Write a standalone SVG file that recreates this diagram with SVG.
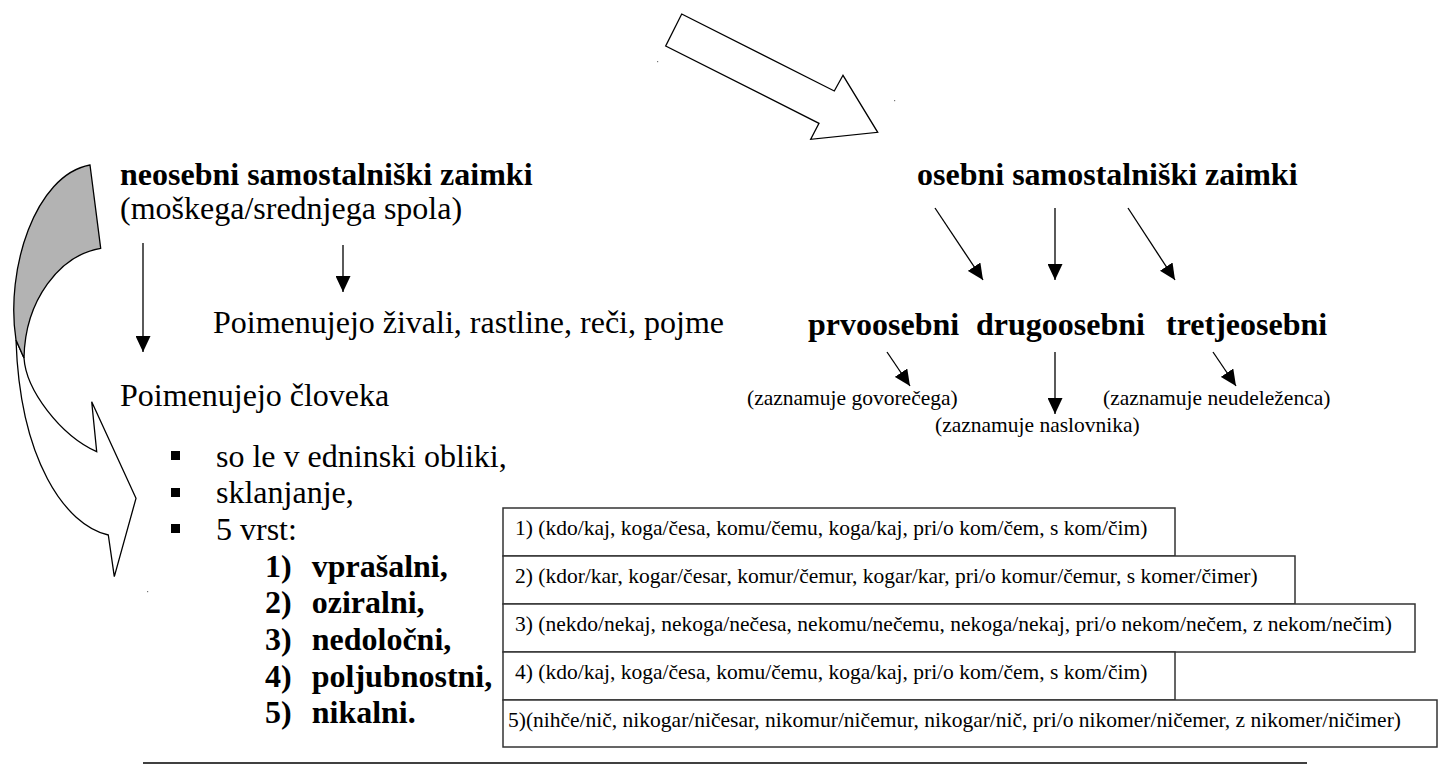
<svg xmlns="http://www.w3.org/2000/svg" width="1439" height="765" viewBox="0 0 1439 765">
<style>
  .t { font-family: "Liberation Serif", "Times New Roman", serif; fill: #000; }
  .b { font-weight: bold; }
  .l { font-size: 32px; }
  .s { font-size: 21.5px; }
  .con { stroke: #000; stroke-width: 1.3; fill: none; }
  .box { fill: #fff; stroke: #333; stroke-width: 1.5; }
  .shape { stroke: #000; stroke-width: 1.3; stroke-linejoin: miter; }
  .dot { fill: #777; }
</style>
<defs>
  <marker id="ah" markerUnits="userSpaceOnUse" markerWidth="16" markerHeight="15" refX="16" refY="7.5" orient="auto">
    <path d="M0,0 L16,7.5 L0,15 Z" fill="#000"/>
  </marker>
</defs>
<rect width="1439" height="765" fill="#fff"/>

<!-- big hollow arrow top -->
<g id="top-arrow">
  <polygon class="shape" fill="#fff" points="681.7,14 834.3,91 843,75.3 877.7,132.3 810.7,139.3 819,123.3 665.7,46"/>
  <rect class="dot" x="657" y="61" width="1.2" height="1.2"/>
  <rect class="dot" x="894" y="100" width="1.2" height="1.2"/>
</g>

<!-- curved arrow left -->
<g id="curved-arrow">
  <path class="shape" fill="#fff" d="M16,340 L24,358 C26,390 60,435 96.7,451.7 L91.7,401.7 L136,498.3 L114.3,576.7 L108.3,535 C65,525 20,460 16,340 Z"/>
  <path class="shape" fill="#b3b3b3" d="M90,165 L100.7,248.3 C60,255 25,300 24,358 L16,340 C5,270 35,175 90,165 Z"/>
  <rect class="dot" x="147" y="591" width="1.2" height="1.2"/>
</g>

<!-- connectors -->
<g id="connectors">
  <line class="con" x1="143" y1="243" x2="143" y2="352" marker-end="url(#ah)"/>
  <line class="con" x1="343" y1="245" x2="343" y2="292" marker-end="url(#ah)"/>
  <line class="con" x1="935" y1="208" x2="983" y2="280" marker-end="url(#ah)"/>
  <line class="con" x1="1055" y1="208" x2="1055" y2="280" marker-end="url(#ah)"/>
  <line class="con" x1="1128" y1="208" x2="1175" y2="280" marker-end="url(#ah)"/>
  <line class="con" x1="887" y1="352" x2="910" y2="386" marker-end="url(#ah)"/>
  <line class="con" x1="1055" y1="352" x2="1055" y2="414" marker-end="url(#ah)"/>
  <line class="con" x1="1213" y1="352" x2="1236" y2="386" marker-end="url(#ah)"/>
</g>

<g id="neosebni">
  <text class="t b l" x="120" y="185">neosebni samostalniški zaimki</text>
  <text class="t l" x="120" y="219">(moškega/srednjega spola)</text>
</g>
<g id="zivali">
  <text class="t l" x="213" y="333">Poimenujejo živali, rastline, reči, pojme</text>
</g>
<g id="cloveka">
  <text class="t l" x="120" y="406">Poimenujejo človeka</text>
</g>
<g id="lastnosti">
  <rect x="171" y="451" width="9" height="9"/>
  <rect x="171" y="488" width="9" height="9"/>
  <rect x="171" y="524" width="9" height="9"/>
  <text class="t l" x="216" y="466.6">so le v edninski obliki,</text>
  <text class="t l" x="216" y="503.3">sklanjanje,</text>
  <text class="t l" x="216" y="540">5 vrst:</text>
</g>
<g id="vrste">
  <text class="t b l" x="265" y="576.7">1)</text><text class="t b l" x="311.7" y="576.7">vprašalni,</text>
  <text class="t b l" x="265" y="613.3">2)</text><text class="t b l" x="311.7" y="613.3">oziralni,</text>
  <text class="t b l" x="265" y="650">3)</text><text class="t b l" x="311.7" y="650">nedoločni,</text>
  <text class="t b l" x="265" y="686.7">4)</text><text class="t b l" x="311.7" y="686.7">poljubnostni,</text>
  <text class="t b l" x="265" y="723.3">5)</text><text class="t b l" x="311.7" y="723.3">nikalni.</text>
</g>

<g id="osebni">
  <text class="t b l" x="917" y="185">osebni samostalniški zaimki</text>
</g>
<g id="prvoosebni">
  <text class="t b l" x="808" y="335">prvoosebni</text>
  <text class="t s" x="747" y="405">(zaznamuje govorečega)</text>
</g>
<g id="drugoosebni">
  <text class="t b l" x="976" y="335">drugoosebni</text>
  <text class="t s" x="935" y="432">(zaznamuje naslovnika)</text>
</g>
<g id="tretjeosebni">
  <text class="t b l" x="1166" y="335">tretjeosebni</text>
  <text class="t s" x="1103" y="405">(zaznamuje neudeleženca)</text>
</g>

<g id="box1">
  <rect class="box" x="503" y="508" width="672" height="48"/>
  <text class="t s" x="515" y="535">1) (kdo/kaj, koga/česa, komu/čemu, koga/kaj, pri/o kom/čem, s kom/čim)</text>
</g>
<g id="box2">
  <rect class="box" x="503" y="556" width="792" height="48"/>
  <text class="t s" x="515" y="583">2) (kdor/kar, kogar/česar, komur/čemur, kogar/kar, pri/o komur/čemur, s komer/čimer)</text>
</g>
<g id="box3">
  <rect class="box" x="503" y="604" width="912" height="48"/>
  <text class="t s" x="515" y="631">3) (nekdo/nekaj, nekoga/nečesa, nekomu/nečemu, nekoga/nekaj, pri/o nekom/nečem, z nekom/nečim)</text>
</g>
<g id="box4">
  <rect class="box" x="503" y="652" width="672" height="48"/>
  <text class="t s" x="515" y="679">4) (kdo/kaj, koga/česa, komu/čemu, koga/kaj, pri/o kom/čem, s kom/čim)</text>
</g>
<g id="box5">
  <rect class="box" x="503" y="700" width="934" height="47"/>
  <text class="t s" x="508" y="727">5)(nihče/nič, nikogar/ničesar, nikomur/ničemur, nikogar/nič, pri/o nikomer/ničemer, z nikomer/ničimer)</text>
</g>

<line x1="143" y1="763" x2="1307" y2="763" stroke="#000" stroke-width="1.5"/>
</svg>
